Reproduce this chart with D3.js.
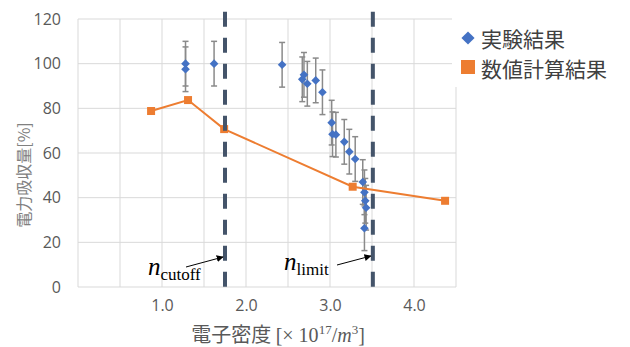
<!DOCTYPE html>
<html>
<head>
<meta charset="utf-8">
<script src="https://cdn.jsdelivr.net/npm/d3@7"></script>
<style>
  body { margin: 0; background: #fff; }
  .tick text { font-family: "Open Sans", "Liberation Sans", sans-serif; font-size: 16px; fill: #595959; }
</style>
</head>
<body>
<script>
// experiment (with +-10 error bars)
var expDensity = [1.28, 1.28, 1.62, 2.43, 2.67, 2.69, 2.73, 2.83, 2.91, 3.02, 3.03, 3.07, 3.17, 3.23, 3.30, 3.39, 3.41, 3.42, 3.43, 3.41];
var expAbsorb  = [100, 97.5, 100, 99.5, 93, 95, 91, 92.5, 87.2, 73.6, 68.4, 68.2, 65, 60.6, 57.3, 47, 42.4, 38.6, 35.5, 26.3];
var expError = 10;

// numerical calculation
var numDensity = [0.87, 1.31, 1.74, 3.27, 4.37];
var numAbsorb  = [78.8, 83.7, 70.7, 44.9, 38.6];

var xTickLabels = [1, 2, 3, 4];
var yTickLabels = [0, 20, 40, 60, 80, 100, 120];
var nCutoff = 1.75, nLimit = 3.51;
var legendNames = ["実験結果", "数値計算結果"];

var svgWidth = 630, svgHeight = 347;
var margin = {top: 19, right: 174, bottom: 60, left: 78};
var width = svgWidth - margin.left - margin.right;
var height = svgHeight - margin.top - margin.bottom;

var svg = d3.select("body").append("svg").attr("width", svgWidth).attr("height", svgHeight);
var chartGroup = svg.append("g").attr("transform", `translate(${margin.left}, ${margin.top})`);

var x = d3.scaleLinear().domain([0, 4.5]).range([0, width]);
var y = d3.scaleLinear().domain([0, 120]).range([height, 0]);

// grid
chartGroup.append("g").selectAll("line").data(d3.range(0, 4.51, 0.5)).enter().append("line")
  .attr("x1", d => x(d)).attr("x2", d => x(d)).attr("y1", 0).attr("y2", height)
  .attr("stroke", "#d9d9d9").attr("stroke-width", 1);
chartGroup.append("g").selectAll("line").data(yTickLabels).enter().append("line")
  .attr("x1", 0).attr("x2", width).attr("y1", d => y(d)).attr("y2", d => y(d))
  .attr("stroke", "#d9d9d9").attr("stroke-width", 1);

// axes
var bottomAxis = d3.axisBottom(x).tickValues(xTickLabels).tickSize(0).tickPadding(13).tickFormat(d3.format(".1f"));
var leftAxis = d3.axisLeft(y).tickValues(yTickLabels).tickSize(0).tickPadding(17);
chartGroup.append("g").attr("transform", `translate(0,${height})`).call(bottomAxis).call(g => g.select(".domain").remove());
chartGroup.append("g").call(leftAxis).call(g => g.select(".domain").remove());

// error bars
var errGroup = chartGroup.append("g").attr("stroke", "#8a8a8a").attr("stroke-width", 1.5);
expDensity.forEach(function(d, i) {
  var cx = x(d), top = y(expAbsorb[i] + expError), bot = y(expAbsorb[i] - expError);
  errGroup.append("line").attr("x1", cx).attr("x2", cx).attr("y1", top).attr("y2", bot);
  errGroup.append("line").attr("x1", cx - 3).attr("x2", cx + 3).attr("y1", top).attr("y2", top);
  errGroup.append("line").attr("x1", cx - 3).attr("x2", cx + 3).attr("y1", bot).attr("y2", bot);
});

// experiment diamonds
var diamond = d3.symbol().type(d3.symbolDiamond2).size(48);
chartGroup.append("g").selectAll("path").data(expDensity).enter().append("path")
  .attr("d", diamond)
  .attr("transform", (d, i) => `translate(${x(d)},${y(expAbsorb[i])})`)
  .attr("fill", "#4472c4");

// numerical line + squares
var numData = numDensity.map((d, i) => [d, numAbsorb[i]]);
chartGroup.append("path").datum(numData)
  .attr("d", d3.line().x(d => x(d[0])).y(d => y(d[1])))
  .attr("fill", "none").attr("stroke", "#ed7d31").attr("stroke-width", 2);
chartGroup.append("g").selectAll("rect").data(numData).enter().append("rect")
  .attr("x", d => x(d[0]) - 4).attr("y", d => y(d[1]) - 4)
  .attr("width", 8).attr("height", 8).attr("fill", "#ed7d31");

// dashed markers
[nCutoff, nLimit].forEach(function(v) {
  chartGroup.append("line")
    .attr("x1", x(v)).attr("x2", x(v)).attr("y1", y(123.2)).attr("y2", y(-1.4))
    .attr("stroke", "#44546a").attr("stroke-width", 4).attr("stroke-dasharray", "15,11");
});

// annotations
svg.append("defs").append("marker").attr("id", "arrow")
  .attr("viewBox", "0 0 10 10").attr("refX", 9).attr("refY", 5)
  .attr("markerWidth", 7).attr("markerHeight", 7).attr("orient", "auto")
  .append("path").attr("d", "M0,0 L10,5 L0,10 z").attr("fill", "#000");

function nLabel(tx, ty, sub, ax1, ay1, ax2, ay2) {
  var t = svg.append("text").attr("x", tx).attr("y", ty).attr("font-family", "Liberation Serif, serif").attr("fill", "#000");
  t.append("tspan").attr("font-style", "italic").attr("font-size", 25).text("n");
  t.append("tspan").attr("font-size", 17).attr("dy", 5).text(sub);
  svg.append("line").attr("x1", ax1).attr("y1", ay1).attr("x2", ax2).attr("y2", ay2)
    .attr("stroke", "#000").attr("stroke-width", 1).attr("marker-end", "url(#arrow)");
}
nLabel(148, 275, "cutoff", 186, 267, margin.left + x(nCutoff) - 2, 257);
nLabel(284, 270, "limit", 337, 265, margin.left + x(nLimit) - 2, 256);

// legend
var legend = svg.append("g");
legend.append("rect").attr("x", 452).attr("y", 12).attr("width", 178).attr("height", 75).attr("fill", "#fff");
legend.append("path").attr("d", d3.symbol().type(d3.symbolDiamond2).size(110))
  .attr("transform", "translate(468,38)").attr("fill", "#4472c4");
legend.append("rect").attr("x", 461).attr("y", 60).attr("width", 14).attr("height", 14).attr("fill", "#ed7d31");
legend.selectAll("text").data(legendNames).enter().append("text")
  .attr("x", 481).attr("y", (d, i) => 38 + i * 30)
  .attr("dominant-baseline", "central")
  .attr("font-family", "Noto Sans CJK JP").attr("font-size", 21).attr("fill", "#404040")
  .text(d => d);

// y-axis label
svg.append("text").attr("transform", "translate(23,175) rotate(-90)")
  .attr("text-anchor", "middle").attr("dominant-baseline", "central")
  .attr("font-family", "Noto Sans CJK JP").attr("font-size", 16).attr("fill", "#808080")
  .text("電力吸収量[%]");

// x-axis label
var xt = svg.append("text").attr("x", 278).attr("y", 342).attr("text-anchor", "middle")
  .attr("fill", "#595959").attr("font-size", 20);
xt.append("tspan").attr("font-family", "Noto Sans CJK JP").text("電子密度 ");
xt.append("tspan").attr("font-family", "Liberation Serif, serif").text("[× 10");
xt.append("tspan").attr("font-family", "Liberation Serif, serif").attr("font-size", 13).attr("dy", -8).text("17");
xt.append("tspan").attr("font-family", "Liberation Serif, serif").attr("dy", 8).text("/");
xt.append("tspan").attr("font-family", "Liberation Serif, serif").attr("font-style", "italic").text("m");
xt.append("tspan").attr("font-family", "Liberation Serif, serif").attr("font-size", 13).attr("dy", -8).text("3");
xt.append("tspan").attr("font-family", "Liberation Serif, serif").attr("dy", 8).text("]");
</script>
</body>
</html>
